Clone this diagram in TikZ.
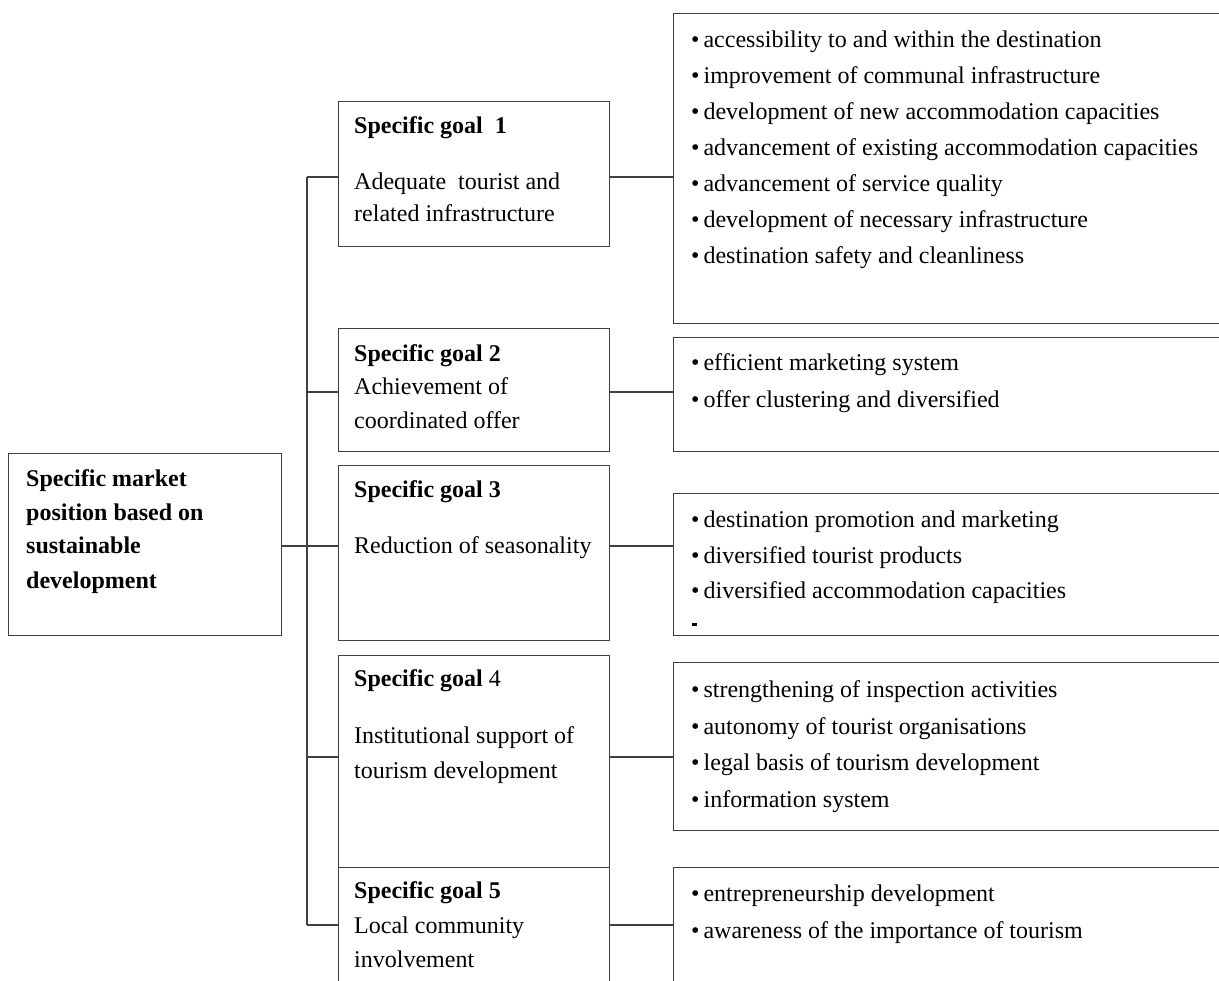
\documentclass[tikz,border=0pt]{standalone}
\usepackage{fontspec}
\setmainfont{Liberation Serif}
\definecolor{linegray}{HTML}{404040}
\begin{document}
\begin{tikzpicture}[x=1pt,y=-1pt,
  box/.style={draw=linegray, line width=1.4pt, anchor=north west, inner sep=0pt},
  conn/.style={draw=linegray, line width=1.4pt},
  txt/.style={anchor=base west, inner sep=0pt, font=\fontsize{24}{36}\selectfont},
  btxt/.style={anchor=base west, inner sep=0pt, font=\fontsize{24}{36}\selectfont\bfseries}]
\useasboundingbox (0,0) rectangle (1219,981);
\clip (0,0) rectangle (1219,981);

% boxes
\node[box, minimum width=273pt, minimum height=182pt] (main) at (8,453) {};
\node[box, minimum width=271pt, minimum height=145pt] (g1) at (338,101) {};
\node[box, minimum width=271pt, minimum height=123pt] (g2) at (338,328) {};
\node[box, minimum width=271pt, minimum height=175pt] (g3) at (338,465) {};
\node[box, minimum width=271pt, minimum height=212pt] (g4) at (338,655) {};
\node[box, minimum width=271pt, minimum height=150pt] (g5) at (338,867) {};
\node[box, minimum width=580pt, minimum height=310pt] (r1) at (673,13) {};
\node[box, minimum width=580pt, minimum height=114pt] (r2) at (673,337) {};
\node[box, minimum width=580pt, minimum height=142pt] (r3) at (673,493) {};
\node[box, minimum width=580pt, minimum height=168pt] (r4) at (673,662) {};
\node[box, minimum width=580pt, minimum height=150pt] (r5) at (673,867) {};

% junction coordinates
\coordinate (j0) at (307,546);
\coordinate (j1) at (307,177);
\coordinate (j2) at (307,392);
\coordinate (j3) at (307,546);
\coordinate (j4) at (307,757);
\coordinate (j5) at (307,925);

\draw[conn] (j1) -- (j5);
\draw[conn] (j0 -| main.east) -- (j0);
\draw[conn] (j1) -- (j1 -| g1.west);
\draw[conn] (j2) -- (j2 -| g2.west);
\draw[conn] (j3) -- (j3 -| g3.west);
\draw[conn] (j4) -- (j4 -| g4.west);
\draw[conn] (j5) -- (j5 -| g5.west);
\draw[conn] (j1 -| g1.east) -- (j1 -| r1.west);
\draw[conn] (j2 -| g2.east) -- (j2 -| r2.west);
\draw[conn] (j3 -| g3.east) -- (j3 -| r3.west);
\draw[conn] (j4 -| g4.east) -- (j4 -| r4.west);
\draw[conn] (j5 -| g5.east) -- (j5 -| r5.west);

% main text
\node[btxt] (m1) at (26,487) {Specific market};
\node[btxt] (m2) at (26,521) {position based on};
\node[btxt] (m3) at (26,554) {sustainable};
\node[btxt] (m4) at (26,588) {development};

% goal texts
\node[btxt] (g1a) at (354,134) {Specific goal\ \ 1};
\node[txt] (g1b) at (354,190) {Adequate\ \ tourist and};
\node[txt] (g1c) at (354,222) {related infrastructure};

\node[btxt] (g2a) at (354,362) {Specific goal 2};
\node[txt] (g2b) at (354,395) {Achievement of};
\node[txt] (g2c) at (354,429) {coordinated offer};

\node[btxt] (g3a) at (354,497) {Specific goal 3};
\node[txt] (g3b) at (354,553) {Reduction of seasonality};

\node[txt] (g4a) at (354,686) {\textbf{Specific goal} 4};
\node[txt] (g4b) at (354,743) {Institutional support of};
\node[txt] (g4c) at (354,778) {tourism development};

\node[btxt] (g5a) at (354,898) {Specific goal 5};
\node[txt] (g5b) at (354,933) {Local community};
\node[txt] (g5c) at (354,967) {involvement};

% right lists
\node[txt] (r1a) at (691,48) {•\,accessibility to and within the destination};
\node[txt] (r1b) at (691,84) {•\,improvement of communal infrastructure};
\node[txt] (r1c) at (691,120) {•\,development of new accommodation capacities};
\node[txt] (r1d) at (691,156) {•\,advancement of existing accommodation capacities};
\node[txt] (r1e) at (691,192) {•\,advancement of service quality};
\node[txt] (r1f) at (691,228) {•\,development of necessary infrastructure};
\node[txt] (r1g) at (691,264) {•\,destination safety and cleanliness};

\node[txt] (r2a) at (691,371) {•\,efficient marketing system};
\node[txt] (r2b) at (691,408) {•\,offer clustering and diversified};

\node[txt] (r3a) at (691,527) {•\,destination promotion and marketing};
\node[txt] (r3b) at (691,563) {•\,diversified tourist products};
\node[txt] (r3c) at (691,598) {•\,diversified accommodation capacities};
\fill[black] (692,623) rectangle (697,625.5);

\node[txt] (r4a) at (691,697) {•\,strengthening of inspection activities};
\node[txt] (r4b) at (691,734) {•\,autonomy of tourist organisations};
\node[txt] (r4c) at (691,770) {•\,legal basis of tourism development};
\node[txt] (r4d) at (691,807) {•\,information system};

\node[txt] (r5a) at (691,901) {•\,entrepreneurship development};
\node[txt] (r5b) at (691,938) {•\,awareness of the importance of tourism};
\end{tikzpicture}
\end{document}
